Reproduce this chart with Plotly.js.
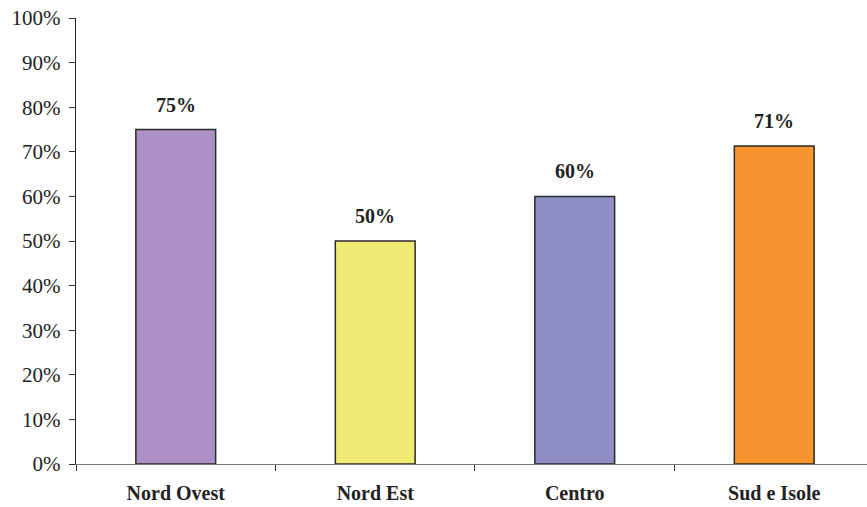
<!DOCTYPE html>
<html><head><meta charset="utf-8">
<script src="https://cdn.plot.ly/plotly-3.0.1.min.js"></script>
<style>html,body{margin:0;padding:0;background:#fff}</style>
</head><body>
<div id="chart" style="width:867px;height:507px"></div>
<script>
const categories = ['Nord Ovest', 'Nord Est', 'Centro', 'Sud e Isole'];
const values = [0.75, 0.50, 0.60, 0.713];
const valueLabels = ['75%', '50%', '60%', '71%'];
const barColors = ['#AD90C5', '#F2EB73', '#8E8DC6', '#F7962E'];
const yTickVals = [0, 0.1, 0.2, 0.3, 0.4, 0.5, 0.6, 0.7, 0.8, 0.9, 1.0];
const yTickText = ['0%', '10%', '20%', '30%', '40%', '50%', '60%', '70%', '80%', '90%', '100%'];

const serif = 'Liberation Serif, Times New Roman, serif';

const trace = {
  type: 'bar',
  x: categories,
  y: values,
  width: 0.4,
  marker: { color: barColors, line: { color: '#2b2b2b', width: 1.5 } },
  hoverinfo: 'none'
};

const annotations = categories.map((c, i) => ({
  x: c, y: values[i], text: valueLabels[i], xref: 'x', yref: 'y',
  showarrow: false, yanchor: 'bottom', yshift: 12,
  font: { family: serif, size: 20, color: '#222', weight: 'bold' }
}));

const layout = {
  width: 867, height: 507,
  margin: { l: 76, r: 0, t: 18, b: 43 },
  paper_bgcolor: '#fff', plot_bgcolor: '#fff',
  showlegend: false,
  bargap: 0.6,
  xaxis: {
    type: 'category',
    range: [-0.5, 3.465],
    showline: true, linecolor: '#777', linewidth: 1.2,
    ticks: 'outside', ticklen: 6, tickcolor: '#333', tickson: 'boundaries',
    showgrid: false, zeroline: false,
    tickfont: { family: serif, size: 20, color: '#222', weight: 'bold' },
    ticklabelstandoff: 11
  },
  yaxis: {
    range: [0, 1.0],
    tickvals: yTickVals, ticktext: yTickText,
    showline: true, linecolor: '#222', linewidth: 1.2,
    ticks: 'outside', ticklen: 6, tickcolor: '#333',
    showgrid: false, zeroline: false,
    tickfont: { family: serif, size: 21, color: '#222' },
    ticklabelstandoff: 4
  },
  annotations: annotations
};

Plotly.newPlot('chart', [trace], layout, { displayModeBar: false, staticPlot: true });
</script>
</body></html>
